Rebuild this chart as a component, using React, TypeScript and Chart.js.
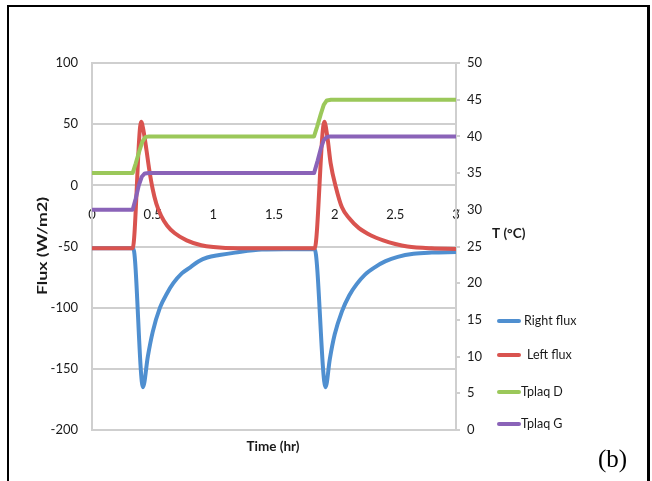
import React, { useEffect, useRef } from "react";
import { Chart, registerables } from "chart.js";

Chart.register(...registerables);

// ---- data (hours, W/m2, °C) ----
const rightFluxT = [0, 0.34, 0.42, 0.46, 0.5, 0.56, 0.62, 0.67, 0.74, 0.81, 0.88, 0.95, 1.05, 1.18, 1.4, 1.835, 1.925, 1.96, 2.0, 2.06, 2.12, 2.18, 2.25, 2.33, 2.42, 2.52, 2.65, 2.8, 3.0];
const rightFluxV = [-51.5, -51.5, -165, -140, -120, -100, -88, -80, -72, -67, -62, -59, -57, -55, -52.5, -52, -165, -142, -122, -103, -90, -81, -73, -67, -62, -58.5, -56, -55, -54.5];

const leftFluxT = [0, 0.335, 0.405, 0.424, 0.45, 0.47, 0.5, 0.53, 0.57, 0.62, 0.68, 0.78, 0.9, 1.0, 1.2, 1.5, 1.835, 1.915, 1.94, 1.967, 2.01, 2.06, 2.12, 2.2, 2.3, 2.4, 2.5, 2.6, 2.8, 3.0];
const leftFluxV = [-51.5, -51.5, 52, 45, 28, 14, -3, -15, -25, -33, -39, -45, -49, -50.5, -51.5, -51.5, -51.5, 52, 39.5, 18, -1.5, -18, -27, -35, -41, -45, -48, -50, -51.5, -52];

const tplaqDT = [0, 0.335, 0.36, 0.39, 0.415, 0.44, 0.47, 1.83, 1.855, 1.885, 1.91, 1.935, 1.97, 3.0];
const tplaqDV = [35, 35, 36.3, 38, 39.3, 39.9, 40, 40, 41.3, 43, 44.3, 44.9, 45, 45];

const tplaqGT = [0, 0.335, 0.36, 0.385, 0.41, 0.435, 0.47, 1.83, 1.86, 1.885, 1.91, 1.935, 1.96, 3.0];
const tplaqGV = [30, 30, 31.5, 33.3, 34.5, 34.95, 35, 35, 36.7, 38.3, 39.5, 39.9, 40, 40];

const seriesNames = ["Right flux", "Left flux", "Tplaq D", "Tplaq G"];
const seriesColors = ["#4f8fd0", "#d9534f", "#9bc85a", "#8a63b8"];

const timeTicks = [0, 0.5, 1, 1.5, 2, 2.5, 3];
const timeTickLabels = ["0", "0.5", "1", "1.5", "2", "2.5", "3"];
const fluxRange = [-200, 100];
const tempRange = [0, 50];

const FONT = "Lato, 'DejaVu Sans', sans-serif";
const TEXT = "#1a1a1a";
const GRID = "#cfcfcf";

const pts = (t: number[], v: number[]) => t.map((x, i) => ({ x, y: v[i] }));

const overlayPlugin = {
  id: "overlay",
  afterDraw(chart: any) {
    const ctx = chart.ctx as CanvasRenderingContext2D;
    ctx.save();
    ctx.fillStyle = TEXT;
    // axis titles
    ctx.font = `bold 13.5px ${FONT}`;
    ctx.textAlign = "center";
    ctx.textBaseline = "middle";
    ctx.fillText("Time (hr)", 273, 447);
    ctx.save();
    ctx.translate(43, 246);
    ctx.rotate(-Math.PI / 2);
    const fluxTitle = "Flux (W/m2)";
    const w = ctx.measureText(fluxTitle).width;
    ctx.scale(98 / w, 1);
    ctx.fillText(fluxTitle, 0, 0);
    ctx.restore();
    ctx.textAlign = "left";
    ctx.fillText("T (°C)", 492, 234);
    // legend
    const ys = [321, 355, 392, 424];
    const tx = [524, 527, 521, 521];
    ctx.font = `12.5px ${FONT}`;
    seriesNames.forEach((name, i) => {
      ctx.strokeStyle = seriesColors[i];
      ctx.lineWidth = 4;
      ctx.lineCap = "round";
      ctx.beginPath();
      ctx.moveTo(499, ys[i]);
      ctx.lineTo(519, ys[i]);
      ctx.stroke();
      ctx.fillStyle = TEXT;
      ctx.fillText(name, tx[i], ys[i]);
    });
    ctx.restore();
  },
};

export default function App() {
  const ref = useRef<HTMLCanvasElement>(null);
  useEffect(() => {
    if (!ref.current) return;
    const mk = (i: number, t: number[], v: number[], axis: string, order: number, cubic: boolean) => ({
      label: seriesNames[i],
      data: pts(t, v),
      borderColor: seriesColors[i],
      backgroundColor: seriesColors[i],
      borderWidth: 4,
      pointRadius: 0,
      yAxisID: axis,
      order,
      cubicInterpolationMode: cubic ? "monotone" : "default",
      tension: cubic ? 0.4 : 0,
      borderCapStyle: "round",
      borderJoinStyle: "round",
    });
    const chart = new Chart(ref.current, {
      type: "line",
      data: {
        datasets: [
          mk(0, rightFluxT, rightFluxV, "y", 4, true),
          mk(1, leftFluxT, leftFluxV, "y", 3, true),
          mk(2, tplaqDT, tplaqDV, "y1", 2, false),
          mk(3, tplaqGT, tplaqGV, "y1", 1, false),
        ] as any,
      },
      options: {
        responsive: false,
        animation: false,
        devicePixelRatio: 1,
        layout: { padding: { left: 0, right: 0, top: 63, bottom: 51 } },
        plugins: { legend: { display: false }, tooltip: { enabled: false } },
        scales: {
          x: {
            type: "linear",
            position: { y: 0 } as any,
            min: timeTicks[0],
            max: timeTicks[timeTicks.length - 1],
            afterBuildTicks: (s: any) => {
              s.ticks = timeTicks.map((v) => ({ value: v }));
            },
            ticks: {
              font: { family: FONT, size: 13 },
              color: TEXT,
              padding: 14,
              maxRotation: 0,
              callback: (v: number) => {
                const i = timeTicks.indexOf(v);
                return i >= 0 ? timeTickLabels[i] : String(v);
              },
            },
            grid: { display: false },
            border: { display: false },
          },
          y: {
            position: "left",
            min: fluxRange[0],
            max: fluxRange[1],
            ticks: { stepSize: 50, font: { family: FONT, size: 13 }, color: TEXT, padding: 14 },
            grid: { color: GRID, lineWidth: 2, drawTicks: false },
            border: { display: true, color: GRID, width: 2 },
            afterFit: (s: any) => {
              s.width = 92;
            },
          },
          y1: {
            position: "right",
            min: tempRange[0],
            max: tempRange[1],
            ticks: { stepSize: 5, font: { family: FONT, size: 13 }, color: TEXT, padding: 7 },
            grid: { drawOnChartArea: false, drawTicks: true, tickLength: 4, color: GRID, lineWidth: 2 },
            border: { display: true, color: GRID, width: 2 },
            afterFit: (s: any) => {
              s.width = 196;
            },
          },
        },
      } as any,
      plugins: [overlayPlugin],
    });
    return () => chart.destroy();
  }, []);

  return (
    <div style={{ position: "absolute", left: 0, top: 0, width: 652, height: 481, overflow: "hidden", background: "#fff" }}>
      <canvas ref={ref} width={652} height={481} style={{ position: "absolute", left: 0, top: 0, display: "block" }} />
      <div
        style={{
          position: "absolute",
          left: 7,
          top: 5,
          width: 638,
          height: 500,
          borderTop: "2px solid #000",
          borderLeft: "2px solid #000",
          borderRight: "3px solid #000",
          pointerEvents: "none",
        }}
      />
      <div
        style={{
          position: "absolute",
          left: 598,
          top: 444,
          fontFamily: "'Liberation Serif', 'Times New Roman', serif",
          fontSize: 25,
          lineHeight: "30px",
          color: "#000",
        }}
      >
        (b)
      </div>
    </div>
  );
}
